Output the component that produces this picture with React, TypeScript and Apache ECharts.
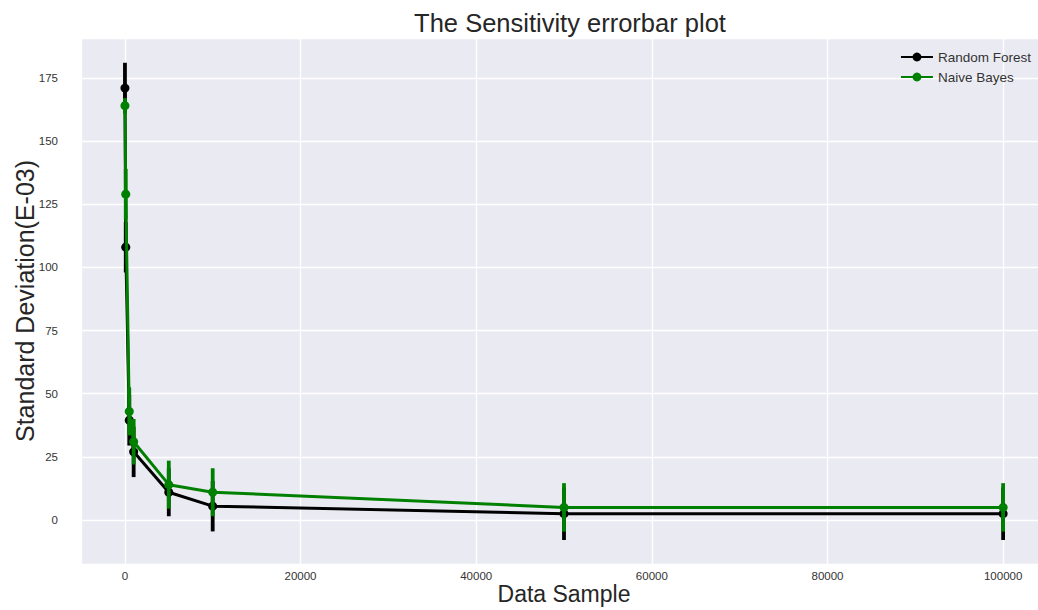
import React, { useEffect, useRef } from "react";
import * as echarts from "echarts";

const samples = [10, 100, 500, 1000, 5000, 10000, 50000, 100000];
const rfMean = [171, 108, 39.5, 27, 11, 5.5, 2.5, 2.5];
const rfErr = [10, 10, 10, 10, 9.5, 10, 10.4, 10.4];
const nbMean = [164, 129, 43, 31, 14, 11, 5, 5];
const nbErr = [3, 10, 9.5, 9, 9.5, 9.5, 9.6, 9.6];
const xTicks = [0, 20000, 40000, 60000, 80000, 100000];
const yTicks = [0, 25, 50, 75, 100, 125, 150, 175];

const FONT = "'Liberation Sans', Arial, sans-serif";

function errData(means: number[], errs: number[]) {
  return samples.map((x, i) => [x, means[i] - errs[i], means[i] + errs[i]]);
}

function errSeries(name: string, color: string, means: number[], errs: number[], z: number) {
  return {
    type: "custom",
    name,
    z,
    silent: true,
    data: errData(means, errs),
    encode: { x: 0, y: [1, 2] },
    renderItem: (params: any, api: any) => {
      const x = api.value(0);
      const p1 = api.coord([x, api.value(1)]);
      const p2 = api.coord([x, api.value(2)]);
      return {
        type: "line",
        shape: { x1: p1[0], y1: p1[1], x2: p2[0], y2: p2[1] },
        style: { stroke: color, lineWidth: 3.8 },
      };
    },
  };
}

export default function App() {
  const ref = useRef<HTMLDivElement>(null);
  useEffect(() => {
    if (!ref.current) return;
    const chart = echarts.init(ref.current, undefined, { renderer: "svg" });
    chart.setOption({
      animation: false,
      backgroundColor: "#ffffff",
      title: {
        text: "The Sensitivity errorbar plot",
        left: 565,
        top: 5,
        textAlign: "center",
        textStyle: { fontFamily: FONT, fontSize: 25.5, fontWeight: "normal", color: "#262626" },
      },
      legend: {
        data: ["Random Forest", "Naive Bayes"],
        orient: "vertical",
        right: 2,
        top: 45,
        itemWidth: 32,
        itemHeight: 11,
        itemGap: 6,
        textStyle: { fontFamily: FONT, fontSize: 13.5, color: "#333" },
      },
      grid: {
        left: 81,
        top: 38,
        width: 966,
        height: 526,
        show: true,
        containLabel: false,
        outerBoundsMode: "none",
        backgroundColor: "#EAEAF2",
        borderWidth: 0,
      },
      xAxis: {
        type: "value",
        min: -4995,
        max: 104995,
        minInterval: 20000,
        maxInterval: 20000,
        name: "Data Sample",
        nameLocation: "middle",
        nameGap: 17,
        nameMoveOverlap: false,
        nameTextStyle: { fontFamily: FONT, fontSize: 23, color: "#262626", lineHeight: 25 },
        axisLine: { show: false },
        axisTick: { show: false },
        axisLabel: {
          margin: 6,
          fontFamily: FONT,
          fontSize: 11.5,
          color: "#333",
          formatter: (v: number) => (xTicks.includes(v) ? String(v) : ""),
        },
        splitLine: { show: true, lineStyle: { color: "#ffffff", width: 1.3 } },
      },
      yAxis: {
        type: "value",
        min: -17.4,
        max: 190.8,
        minInterval: 25,
        maxInterval: 25,
        name: "Standard Deviation(E-03)",
        nameLocation: "middle",
        nameGap: 44,
        nameMoveOverlap: false,
        nameTextStyle: { fontFamily: FONT, fontSize: 25, color: "#262626" },
        axisLine: { show: false },
        axisTick: { show: false },
        axisLabel: {
          margin: 23,
          fontFamily: FONT,
          fontSize: 11.5,
          color: "#333",
          formatter: (v: number) => (yTicks.includes(v) ? String(v) : ""),
        },
        splitLine: { show: true, lineStyle: { color: "#ffffff", width: 1.3 } },
      },
      series: [
        errSeries("rf-err", "#000000", rfMean, rfErr, 2),
        {
          type: "line",
          name: "Random Forest",
          z: 3,
          data: samples.map((x, i) => [x, rfMean[i]]),
          symbol: "circle",
          symbolSize: 9,
          showSymbol: true,
          itemStyle: { color: "#000000" },
          lineStyle: { color: "#000000", width: 3 },
        },
        errSeries("nb-err", "#008000", nbMean, nbErr, 4),
        {
          type: "line",
          name: "Naive Bayes",
          z: 5,
          data: samples.map((x, i) => [x, nbMean[i]]),
          symbol: "circle",
          symbolSize: 9,
          showSymbol: true,
          itemStyle: { color: "#008000" },
          lineStyle: { color: "#008000", width: 3 },
        },
      ],
    });
    return () => chart.dispose();
  }, []);
  return (
    <div
      ref={ref}
      style={{ position: "fixed", left: 0, top: 0, width: 1038, height: 610 }}
    />
  );
}
